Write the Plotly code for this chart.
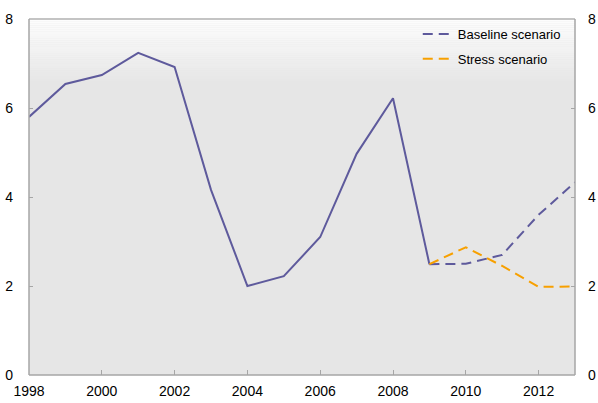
import plotly.graph_objects as go

years_hist = [1998, 1999, 2000, 2001, 2002, 2003, 2004, 2005, 2006, 2007, 2008, 2009]
values_hist = [5.80, 6.54, 6.74, 7.24, 6.92, 4.16, 2.00, 2.22, 3.10, 4.97, 6.22, 2.49]

years_proj = [2009, 2010, 2011, 2012, 2013]
baseline_proj = [2.49, 2.50, 2.70, 3.60, 4.33]
stress_proj = [2.49, 2.87, 2.45, 1.98, 1.99]

x_ticks = [1998, 2000, 2002, 2004, 2006, 2008, 2010, 2012]
y_ticks = [0, 2, 4, 6, 8]

PURPLE = "#5E5A9C"
ORANGE = "#F7A000"
FONT = "Liberation Sans, Arial, sans-serif"

fig = go.Figure()
fig.add_trace(go.Scatter(x=years_hist, y=values_hist, mode="lines",
                         line=dict(color=PURPLE, width=2), showlegend=False,
                         hoverinfo="skip"))
fig.add_trace(go.Scatter(x=years_proj, y=baseline_proj, mode="lines",
                         line=dict(color=PURPLE, width=2, dash="10px,6px"),
                         name="Baseline scenario", legendgroup="a"))
fig.add_trace(go.Scatter(x=years_proj, y=stress_proj, mode="lines",
                         line=dict(color=ORANGE, width=2, dash="10px,6px"),
                         name="Stress scenario", legendgroup="b"))
fig.add_trace(go.Scatter(x=[years_hist[0]], y=[values_hist[0]], yaxis="y2",
                         mode="lines", line=dict(width=0), showlegend=False,
                         hoverinfo="skip"))

shapes = []
n = 30
top_frac = 0.18
for i in range(n):
    y1 = 1 - top_frac * i / n
    y0 = 1 - top_frac * (i + 1) / n
    t = (i + 0.5) / n
    c = int(round(253 - (253 - 230) * t))
    shapes.append(dict(type="rect", xref="x domain", yref="y domain",
                       x0=0, x1=1, y0=y0, y1=y1, layer="below",
                       line=dict(width=0), fillcolor=f"rgb({c},{c},{c})"))
shapes.append(dict(type="line", xref="x domain", yref="y domain", x0=0, x1=1, y0=1, y1=1,
                   line=dict(color="#c4c4c4", width=2)))
shapes.append(dict(type="line", xref="x domain", yref="y domain", x0=0, x1=0, y0=0, y1=1,
                   line=dict(color="#a6a6a6", width=1.5)))
shapes.append(dict(type="line", xref="x domain", yref="y domain", x0=1, x1=1, y0=0, y1=1,
                   line=dict(color="#a6a6a6", width=1.5)))
shapes.append(dict(type="line", xref="x domain", yref="y domain", x0=0, x1=1, y0=0, y1=0,
                   line=dict(color="#a6a6a6", width=1.5)))

fig.update_layout(
    width=598, height=403,
    margin=dict(l=29, r=23, t=19, b=28, autoexpand=False),
    paper_bgcolor="white",
    plot_bgcolor="#e6e6e6",
    font=dict(family=FONT, size=14, color="#000000"),
    shapes=shapes,
    showlegend=True,
    legend=dict(x=0.712, y=1.0, xanchor="left", yanchor="top",
                bgcolor="rgba(0,0,0,0)", font=dict(size=13, family=FONT),
                itemwidth=30, tracegroupgap=5, traceorder="grouped"),
    xaxis=dict(range=[1998, 2013], tickvals=x_ticks, ticktext=[str(v) for v in x_ticks],
               ticks="inside", ticklen=5, tickcolor="#a6a6a6", showgrid=False,
               zeroline=False, showline=False, tickfont=dict(size=14),
               automargin=False, ticklabelstandoff=6),
    yaxis=dict(range=[0, 8], tickvals=y_ticks, ticks="inside", ticklen=4,
               tickcolor="#a6a6a6", showgrid=False, zeroline=False, showline=False,
               tickfont=dict(size=14), automargin=False, ticklabelstandoff=15),
    yaxis2=dict(range=[0, 8], tickvals=y_ticks, overlaying="y", side="right",
                ticks="inside", ticklen=4, tickcolor="#a6a6a6", showgrid=False,
                zeroline=False, showline=False, tickfont=dict(size=14),
                automargin=False, ticklabelstandoff=12),
)

fig.write_html("out.html", config={"displayModeBar": False},
               post_script="document.body.style.margin='0';document.body.style.overflow='hidden';")
